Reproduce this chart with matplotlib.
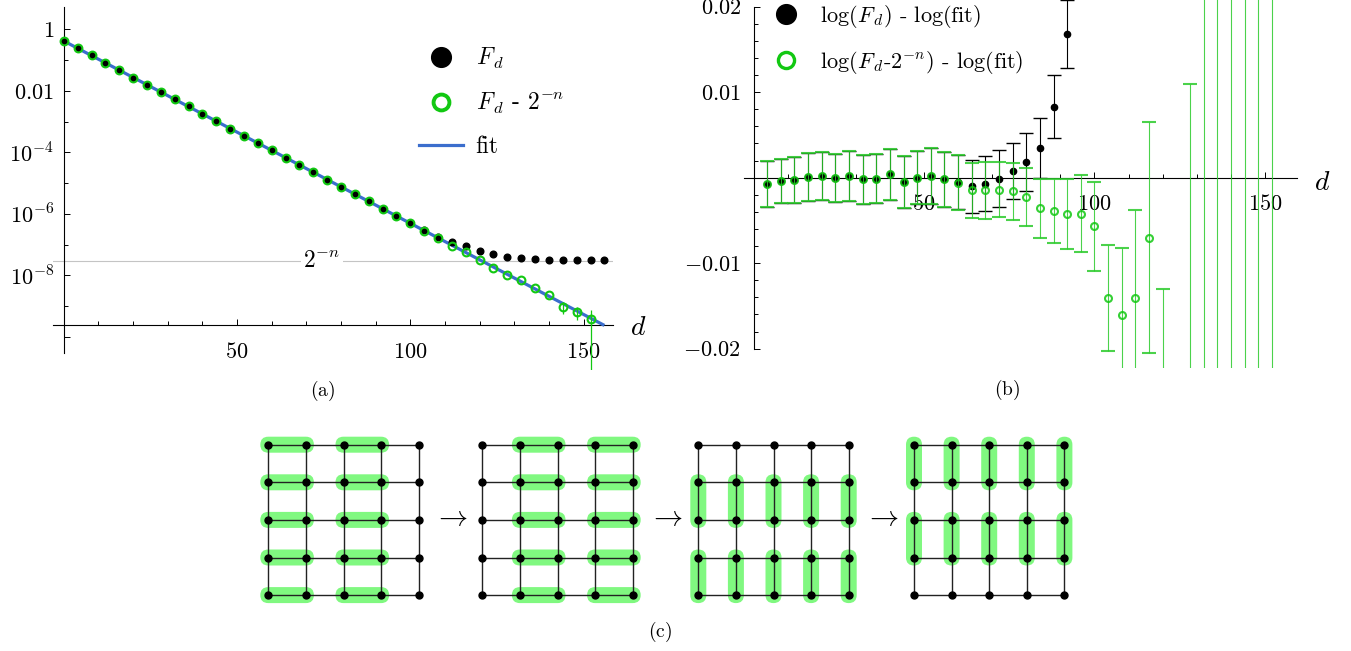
import matplotlib
matplotlib.use('Agg')
import matplotlib.pyplot as plt
import numpy as np
from matplotlib.lines import Line2D
from matplotlib.patches import FancyBboxPatch
from matplotlib.ticker import FixedLocator, FixedFormatter, NullFormatter

plt.rcParams['font.family'] = ['cmr10', 'DejaVu Serif']
plt.rcParams['mathtext.fontset'] = 'cm'
plt.rcParams['axes.unicode_minus'] = False
plt.rcParams['axes.formatter.use_mathtext'] = True

n_qubits = 25

# ---- panel (a): F_d on log scale
d_a = [0, 4, 8, 12, 16, 20, 24, 28, 32, 36, 40, 44, 48, 52, 56, 60, 64, 68, 72, 76,
       80, 84, 88, 92, 96, 100, 104, 108, 112, 116, 120, 124, 128, 132, 136, 140, 144, 148, 152, 156]
log_Fd = [-0.38, -0.62, -0.85, -1.09, -1.33, -1.57, -1.80, -2.04, -2.28, -2.51,
          -2.75, -2.99, -3.23, -3.46, -3.70, -3.94, -4.18, -4.41, -4.65, -4.89,
          -5.12, -5.36, -5.60, -5.84, -6.07, -6.31, -6.53, -6.74, -6.93, -7.05,
          -7.20, -7.31, -7.39, -7.45, -7.47, -7.49, -7.51, -7.51, -7.51, -7.51]
log_Fd_sub = [-0.38, -0.62, -0.85, -1.09, -1.33, -1.57, -1.80, -2.04, -2.28, -2.51,
              -2.75, -2.99, -3.23, -3.46, -3.70, -3.94, -4.18, -4.41, -4.65, -4.89,
              -5.12, -5.36, -5.60, -5.84, -6.07, -6.31, -6.57, -6.80, -7.04, -7.25,
              -7.51, -7.75, -7.98, -8.16, -8.41, -8.64, -9.02, -9.18, -9.42, np.nan]
err_Fd_sub = [0.0] * 36 + [4.0e-10, 3.0e-10, 3.9e-10, 0.0]
fit_d = [0, 156]
fit_logF = [-0.38, -9.63]

# ---- panel (b): residuals
d_b_black = [4, 8, 12, 16, 20, 24, 28, 32, 36, 40, 44, 48, 52, 56, 60, 64, 68, 72, 76, 80, 84, 88, 92]
res_black = [-0.0007, -0.0004, -0.0003, 0.0001, 0.0002, 0.0000, 0.0002, -0.0002, -0.0001, 0.0004,
             -0.0005, 0.0000, 0.0002, -0.0002, -0.0005, -0.0010, -0.0007, -0.0001, 0.0008, 0.0018,
             0.0035, 0.0083, 0.0168]
err_black = [0.0027, 0.0026, 0.0027, 0.0028, 0.0028, 0.0028, 0.0029, 0.0029, 0.0029, 0.0030,
             0.0030, 0.0031, 0.0033, 0.0032, 0.0032, 0.0031, 0.0032, 0.0033, 0.0033, 0.0034,
             0.0035, 0.0037, 0.0040]
d_b_green = [4, 8, 12, 16, 20, 24, 28, 32, 36, 40, 44, 48, 52, 56, 60, 64, 68, 72, 76, 80,
             84, 88, 92, 96, 100, 104, 108, 112, 116, 120, 128, 132, 136, 140, 144, 148, 152]
res_green = [-0.0007, -0.0004, -0.0003, 0.0001, 0.0002, 0.0000, 0.0002, -0.0002, -0.0001, 0.0004,
             -0.0005, 0.0000, 0.0002, -0.0002, -0.0006, -0.0015, -0.0015, -0.0014, -0.0016, -0.0023,
             -0.0036, -0.0039, -0.0042, -0.0042, -0.0057, -0.0141, -0.0161, -0.0141, -0.0070, -0.031,
             -0.040, -0.06, -0.08, -0.10, -0.20, -0.25, -0.40]
err_green = [0.0027, 0.0026, 0.0027, 0.0028, 0.0028, 0.0028, 0.0029, 0.0029, 0.0029, 0.0030,
             0.0030, 0.0031, 0.0033, 0.0032, 0.0032, 0.0032, 0.0033, 0.0032, 0.0033, 0.0034,
             0.0035, 0.0037, 0.0041, 0.0045, 0.0052, 0.0062, 0.0079, 0.0103, 0.0135, 0.018,
             0.051, 0.10, 0.15, 0.20, 0.40, 0.50, 1.0]

# ---- panel (c): pairing pattern of each layer ('h'/'v', offset)
layers = [('h', 0), ('h', 1), ('v', 1), ('v', 0)]
lattice_size = 5

green = '#12C812'
green_bar = '#2BCB2B'
blue = '#3B6ECD'
pill_green = '#80F880'

W, H = 1351, 651
fig = plt.figure(figsize=(W / 100, H / 100), dpi=100)


def px_axes(x0, y0, x1, y1):
    return fig.add_axes([x0 / W, 1 - y1 / H, (x1 - x0) / W, (y1 - y0) / H])


def style_axes(ax):
    ax.spines['top'].set_visible(False)
    ax.spines['right'].set_visible(False)
    for s in ('left', 'bottom'):
        ax.spines[s].set_linewidth(0.8)
    ax.tick_params(which='both', direction='in', width=0.7, labelsize=16)
    ax.tick_params(which='major', length=4.5)
    ax.tick_params(which='minor', length=2.6)
    ax.patch.set_alpha(0)


# ================= (a)
ax_a = px_axes(53.4, 6.7, 613.4, 370)
ax_a.set_yscale('log')
ax_a.set_xlim(-3, 158.6)
ax_a.set_ylim(10 ** -11.08, 10 ** 0.735)
style_axes(ax_a)
x_axis_a = 10 ** fit_logF[1]
ax_a.spines['left'].set_position(('data', 0))
ax_a.spines['bottom'].set_position(('data', x_axis_a))
ax_a.spines['left'].set_bounds(10 ** -10.53, 10 ** 0.735)

ax_a.axhline(2.0 ** -n_qubits, color='#c4c4c4', lw=0.8, zorder=1)
ax_a.text(74.5, 2.0 ** -n_qubits, r'$2^{-n}$', fontsize=17, ha='center', va='center',
          bbox=dict(facecolor='white', edgecolor='none', pad=1.5), zorder=2)

ax_a.plot(fit_d, 10 ** np.array(fit_logF), color=blue, lw=2.3, zorder=3, solid_capstyle='butt')
ax_a.plot(d_a, 10 ** np.array(log_Fd), 'o', ms=4.8, color='black', mec='black', zorder=4)
ax_a.errorbar(d_a, 10 ** np.array(log_Fd_sub), yerr=err_Fd_sub, fmt='o', ms=5.6,
              mfc='none', mec=green, mew=1.5, ecolor=green, elinewidth=0.9, capsize=0, zorder=5)

ax_a.yaxis.set_major_locator(FixedLocator([1, 1e-2, 1e-4, 1e-6, 1e-8, 1e-10]))
ax_a.yaxis.set_major_formatter(FixedFormatter([r'$1$', r'$0.01$', r'$10^{-4}$', r'$10^{-6}$', r'$10^{-8}$', '']))
ax_a.yaxis.set_minor_locator(FixedLocator([1e-1, 1e-3, 1e-5, 1e-7, 1e-9]))
ax_a.yaxis.set_minor_formatter(NullFormatter())
ax_a.xaxis.set_major_locator(FixedLocator([50, 100, 150]))
ax_a.xaxis.set_major_formatter(FixedFormatter([r'$50$', r'$100$', r'$150$']))
ax_a.xaxis.set_minor_locator(FixedLocator([10, 20, 30, 40, 60, 70, 80, 90, 110, 120, 130, 140]))
ax_a.tick_params(axis='x', pad=12)
ax_a.tick_params(axis='y', pad=7)

leg_a = ax_a.legend(
    [Line2D([], [], ls='none', marker='o', ms=14.2, mfc='black', mec='black'),
     Line2D([], [], ls='none', marker='o', ms=11.4, mfc='white', mec=green, mew=2.8),
     Line2D([], [], color=blue, lw=2.3)],
    [r'$F_{\,d}$', r'$F_{\,d}$ - $2^{-n}$', 'fit'],
    loc='upper left', bbox_to_anchor=(419 / W, 1 - 46 / H), bbox_transform=fig.transFigure,
    frameon=False, borderpad=0, borderaxespad=0, handlelength=1.85, handletextpad=0.55,
    labelspacing=0.85, fontsize=17)

fig.text(638 / W, 1 - 328 / H, r'$d$', fontsize=20, ha='center', va='center')
fig.text(323 / W, 1 - 391 / H, r'$(\mathrm{a})$', fontsize=14, ha='center', va='center')

# ================= (b)
ax_b = px_axes(744.3, 0, 1296.7, 368)
ax_b.set_xlim(-2.7, 159.3)
ax_b.set_ylim(-0.02226, 0.02078)
style_axes(ax_b)
ax_b.spines['left'].set_position(('data', 0))
ax_b.spines['bottom'].set_position(('data', 0))
ax_b.spines['left'].set_bounds(-0.02, 0.02)

ax_b.errorbar(d_b_black, res_black, yerr=err_black, fmt='o', ms=4.5, color='black',
              ecolor='black', elinewidth=0.8, capsize=4.8, capthick=1.0, zorder=3)
ax_b.errorbar(d_b_green, res_green, yerr=err_green, fmt='o', ms=5.0, mfc='none', mec=green, mew=1.5,
              ecolor=green_bar, elinewidth=0.8, capsize=4.8, capthick=1.3, alpha=0.85, zorder=4)

ax_b.yaxis.set_major_locator(FixedLocator([-0.02, -0.01, 0.01, 0.02]))
ax_b.yaxis.set_major_formatter(FixedFormatter([r'$-0.02$', r'$-0.01$', r'$0.01$', r'$0.02$']))
ax_b.yaxis.set_minor_locator(FixedLocator([v / 1000 for v in (-18, -16, -14, -12, -8, -6, -4, -2,
                                                              2, 4, 6, 8, 12, 14, 16, 18)]))
ax_b.yaxis.set_minor_formatter(NullFormatter())
ax_b.xaxis.set_major_locator(FixedLocator([50, 100, 150]))
ax_b.xaxis.set_major_formatter(FixedFormatter([r'$50$', r'$100$', r'$150$']))
ax_b.xaxis.set_minor_locator(FixedLocator([10, 20, 30, 40, 60, 70, 80, 90, 110, 120, 130, 140]))
ax_b.tick_params(axis='x', pad=12)
ax_b.tick_params(axis='y', pad=9)

leg_b = ax_b.legend(
    [Line2D([], [], ls='none', marker='o', ms=14.2, mfc='black', mec='black'),
     Line2D([], [], ls='none', marker='o', ms=11.6, mfc='white', mec=green, mew=2.4)],
    [r'$\mathrm{log}(F_{\,d})$ - $\mathrm{log(fit)}$',
     r'$\mathrm{log}(F_{\,d}$-$2^{-n})$ - $\mathrm{log(fit)}$'],
    loc='upper left', bbox_to_anchor=(773 / W, 1 - 3 / H), bbox_transform=fig.transFigure,
    frameon=False, borderpad=0, borderaxespad=0, handlelength=1.15, handletextpad=0.95,
    labelspacing=0.85, fontsize=16)

fig.text(1322 / W, 1 - 183 / H, r'$d$', fontsize=20, ha='center', va='center')
fig.text(1007 / W, 1 - 390 / H, r'$(\mathrm{b})$', fontsize=14, ha='center', va='center')

# ================= (c)
ax_c = px_axes(240, 420, 1100, 651)
ax_c.set_xlim(240, 1100)
ax_c.set_ylim(651, 420)
ax_c.axis('off')

lat_x0 = [268.3, 482.3, 698.3, 914.0]
lat_y0 = 444.7
pitch = 37.6
half = 8.0
grid = np.arange(lattice_size)

for x0, (orient, off) in zip(lat_x0, layers):
    xs = x0 + grid * pitch
    ys = lat_y0 + grid * pitch
    for p in (off, off + 2):
        for q in grid:
            if orient == 'h':
                bx, by = xs[p] - half, ys[q] - half
                bw, bh = xs[p + 1] - xs[p] + 2 * half, 2 * half
            else:
                bx, by = xs[q] - half, ys[p] - half
                bw, bh = 2 * half, ys[p + 1] - ys[p] + 2 * half
            ax_c.add_patch(FancyBboxPatch((bx, by), bw, bh,
                                          boxstyle='round,pad=0,rounding_size=%.1f' % half,
                                          fc=pill_green, ec='none', zorder=1))
    for q in grid:
        ax_c.plot([xs[0], xs[-1]], [ys[q], ys[q]], color='#222222', lw=1.0, zorder=2)
        ax_c.plot([xs[q], xs[q]], [ys[0], ys[-1]], color='#222222', lw=1.0, zorder=2)
    gx, gy = np.meshgrid(xs, ys)
    ax_c.plot(gx.ravel(), gy.ravel(), 'o', ms=5.0, color='black', zorder=3)

for i in range(len(lat_x0) - 1):
    xm = (lat_x0[i] + (lattice_size - 1) * pitch + lat_x0[i + 1]) / 2
    ax_c.text(xm, lat_y0 + 2 * pitch - 2, r'$\rightarrow$', fontsize=21, ha='center', va='center')

fig.text(660 / W, 1 - 632 / H, r'$(\mathrm{c})$', fontsize=14, ha='center', va='center')

fig.savefig('out.png', dpi=100)
